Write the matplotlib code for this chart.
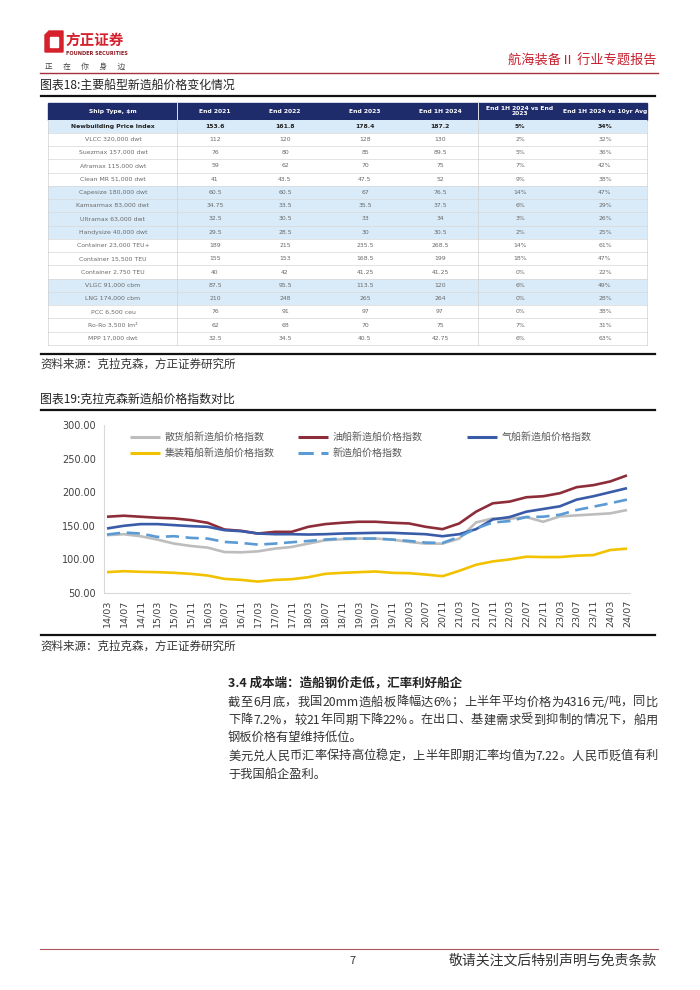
import re
import matplotlib
matplotlib.use("Agg")
import matplotlib.pyplot as plt
from matplotlib.patches import Rectangle, Polygon

plt.rcParams['font.family'] = ['Noto Sans CJK SC', 'DejaVu Sans']

# ---- table 18 data ----
ship_types = ["Newbuilding Price Index", "VLCC 320,000 dwt", "Suezmax 157,000 dwt",
              "Aframax 115,000 dwt", "Clean MR 51,000 dwt", "Capesize 180,000 dwt",
              "Kamsarmax 83,000 dwt", "Ultramax 63,000 dwt", "Handysize 40,000 dwt",
              "Container 23,000 TEU+", "Container 15,500 TEU", "Container 2,750 TEU",
              "VLGC 91,000 cbm", "LNG 174,000 cbm", "PCC 6,500 ceu",
              "Ro-Ro 3,500 lm²", "MPP 17,000 dwt"]
end_2021 = [153.6, 112, 76, 59, 41, 60.5, 34.75, 32.5, 29.5, 189, 155, 40, 87.5, 210, 76, 62, 32.5]
end_2022 = [161.8, 120, 80, 62, 43.5, 60.5, 33.5, 30.5, 28.5, 215, 153, 42, 95.5, 248, 91, 68, 34.5]
end_2023 = [178.4, 128, 85, 70, 47.5, 67, 35.5, 33, 30, 235.5, 168.5, 41.25, 113.5, 265, 97, 70, 40.5]
end_1h2024 = [187.2, 130, 89.5, 75, 52, 76.5, 37.5, 34, 30.5, 268.5, 199, 41.25, 120, 264, 97, 75, 42.75]
vs_end2023 = [5, 2, 5, 7, 9, 14, 6, 3, 2, 14, 18, 0, 6, 0, 0, 7, 6]
vs_10yr = [34, 32, 36, 42, 38, 47, 29, 26, 25, 61, 47, 22, 49, 28, 38, 31, 63]
table_header = ["Ship Type, $m", "End 2021", "End 2022", "End 2023", "End 1H 2024",
                "End 1H 2024 vs End\n2023", "End 1H 2024 vs 10yr Avg"]
shaded_rows = [0, 5, 6, 7, 8, 12, 13]

# ---- chart 19 data (every 4 months) ----
months = ["14/03", "14/07", "14/11", "15/03", "15/07", "15/11", "16/03", "16/07",
          "16/11", "17/03", "17/07", "17/11", "18/03", "18/07", "18/11", "19/03",
          "19/07", "19/11", "20/03", "20/07", "20/11", "21/03", "21/07", "21/11",
          "22/03", "22/07", "22/11", "23/03", "23/07", "23/11", "24/03", "24/07"]
bulk_idx = [136, 137.5, 134.5, 129.5, 123.5, 120, 117.5, 111, 110.5, 112, 116, 118.5,
            123.5, 128.5, 130, 131, 131, 129.5, 126, 123.5, 123.5, 131, 155, 161,
            160.5, 163, 156, 164, 165.5, 167, 168.5, 173.5]
tanker_idx = [163.5, 165, 163.5, 162, 161, 158.5, 154.5, 144.5, 142.5, 138.5, 141, 141,
              148.5, 152.5, 154.5, 156, 156, 154.5, 153.5, 148.5, 145, 153.5, 171, 183.5,
              186, 192.5, 194, 198.5, 207.5, 210.5, 216, 225]
gas_idx = [146, 150, 152.5, 152.5, 151, 149.5, 148.5, 143.5, 142, 138.5, 137.5, 137.5,
           137, 137.5, 138.5, 139, 139.5, 139.5, 138.5, 137.5, 134.5, 137.5, 145, 159.5,
           163, 171, 175, 179, 189, 194, 200, 206]
container_idx = [81, 82.5, 81.5, 81, 80, 78.5, 76, 71, 69.5, 67, 69.5, 70.5,
                 73.5, 78.5, 80, 81, 82, 80, 79.5, 77.5, 75, 83, 92, 97,
                 100, 104, 103.5, 103.5, 105.5, 106.5, 114, 116]
newbuild_idx = [137, 140, 138.5, 133.5, 134.5, 132, 131, 126, 124.5, 122, 123.5, 125.5,
                127.5, 129.5, 131, 131, 131, 129.5, 127.5, 125, 124.5, 133.5, 146, 155,
                157, 163, 163.5, 166.5, 173.5, 178.5, 183.5, 189]
y_ticks = [50, 100, 150, 200, 250, 300]

W, H = 700, 990
fig = plt.figure(figsize=(7, 9.9), dpi=100)
page = fig.add_axes([0, 0, 1, 1])
page.set_xlim(0, W)
page.set_ylim(H, 0)
page.axis('off')
renderer = fig.canvas.get_renderer()

red = '#c8202f'


def justified(y, line, x0, x1, size, color):
    """Spread the pieces of a line so that it fills x0..x1."""
    tokens = re.findall(r'[A-Za-z0-9.%/]+|[^\sA-Za-z0-9.%/]', line)
    texts = [page.text(0, y, t, fontsize=size, color=color, va='center') for t in tokens]
    widths = [t.get_window_extent(renderer).width for t in texts]
    gap = (x1 - x0 - sum(widths)) / (len(texts) - 1)
    x = x0
    for t, w in zip(texts, widths):
        t.set_x(x)
        x += w + gap


# ---- header ----
page.add_patch(Polygon([(45, 35), (49, 31), (63, 31), (63, 52), (45, 52)], color='#d6202c'))
page.add_patch(Rectangle((50, 37), 8, 10, color='white'))
page.text(65, 40, "方正证券", fontsize=10.5, fontweight='bold', color='#d6202c', va='center')
page.text(66, 53.5, "FOUNDER SECURITIES", fontsize=3.6, fontweight='bold', color='#8b1a22',
          va='center', family='DejaVu Sans')
page.text(45, 66.5, "正      在      你      身      边", fontsize=5.5, color='#444444',
          va='center')
page.text(657, 61, "航海装备Ⅱ 行业专题报告", fontsize=9.5, color=red, ha='right', va='center')
page.plot([40, 658], [72.5, 72.5], color='#a3323c', lw=1.0)

# ---- table 18 ----
page.text(40, 86, "图表18:主要船型新造船价格变化情况", fontsize=8.6, color='#222222', va='center')
page.plot([41, 655], [96, 96], color='#111111', lw=1.6)

tx0, tx1 = 48, 647
col_centers = [113, 215, 285, 365, 440, 520, 605]
head_top, head_bot = 103, 119.5
row_h = (345 - head_bot) / len(ship_types)
page.add_patch(Rectangle((tx0, head_top), tx1 - tx0, head_bot - head_top, color='#1f2c6c'))
for cx, lab in zip(col_centers, table_header):
    page.text(cx, (head_top + head_bot) / 2, lab, fontsize=4.3, color='white',
              fontweight='bold', ha='center', va='center', family='DejaVu Sans',
              linespacing=0.95)
for sep in (177, 478):
    page.plot([sep, sep], [head_top, head_bot], color='white', lw=0.6)

for i, name in enumerate(ship_types):
    top = head_bot + i * row_h
    if i in shaded_rows:
        page.add_patch(Rectangle((tx0, top), tx1 - tx0, row_h, color='#d9ebf8', lw=0))
    page.plot([tx0, tx1], [top + row_h, top + row_h], color='#d8d8d8', lw=0.5)
    cells = [name, f"{end_2021[i]:g}", f"{end_2022[i]:g}", f"{end_2023[i]:g}",
             f"{end_1h2024[i]:g}", f"{vs_end2023[i]}%", f"{vs_10yr[i]}%"]
    bold = i == 0
    for cx, txt in zip(col_centers, cells):
        page.text(cx, top + row_h / 2, txt, fontsize=4.4, ha='center', va='center',
                  color='#222222' if bold else '#6a6a6a',
                  fontweight='bold' if bold else 'normal', family='DejaVu Sans')
table_bot = head_bot + len(ship_types) * row_h
for sep in (177, 478):
    page.plot([sep, sep], [head_bot, table_bot], color='#d0d0d0', lw=0.5)
page.plot([tx0, tx0], [head_bot, table_bot], color='#d0d0d0', lw=0.5)
page.plot([tx1, tx1], [head_bot, table_bot], color='#d0d0d0', lw=0.5)

page.plot([41, 655], [353.5, 353.5], color='#111111', lw=1.6)
page.text(40, 364, "资料来源：克拉克森，方正证券研究所", fontsize=8.3, color='#333333', va='center')

# ---- chart 19 ----
page.text(40, 400, "图表19:克拉克森新造船价格指数对比", fontsize=8.6, color='#222222', va='center')
page.plot([41, 655], [410, 410], color='#111111', lw=1.6)
page.plot([41, 655], [635, 635], color='#111111', lw=1.6)
page.text(40, 646, "资料来源：克拉克森，方正证券研究所", fontsize=8.3, color='#333333', va='center')

series = [
    ("散货船新造船价格指数", bulk_idx, '#bdbdbd', '-'),
    ("油船新造船价格指数", tanker_idx, '#8e2d3a', '-'),
    ("气船新造船价格指数", gas_idx, '#3a5ba8', '-'),
    ("集装箱船新造船价格指数", container_idx, '#f2c200', '-'),
    ("新造船价格指数", newbuild_idx, '#5b9bd5', (0, (5, 2.5))),
]

ax = fig.add_axes([104 / W, 1 - 593 / H, (630 - 104) / W, (593 - 425) / H])
x = list(range(len(months)))
for lab, vals, col, ls in series:
    ax.plot(x, vals, color=col, lw=1.9, ls=ls, solid_capstyle='butt')
ax.set_xlim(-3 / 16.77, len(months) - 1 + 3 / 16.77)
ax.set_ylim(50, 300)
ax.set_yticks(y_ticks)
ax.set_yticklabels([f"{v:.2f}" for v in y_ticks], fontsize=7, color='#404040',
                   family='DejaVu Sans')
ax.set_xticks(x)
ax.set_xticklabels(months, rotation=90, fontsize=6.8, color='#404040', family='DejaVu Sans')
ax.tick_params(length=0, pad=5)
ax.tick_params(axis='y', pad=6)
for s in ('top', 'right'):
    ax.spines[s].set_visible(False)
for s in ('left', 'bottom'):
    ax.spines[s].set_color('#d9d9d9')
    ax.spines[s].set_linewidth(0.8)
ax.patch.set_alpha(0)

# manual legend
leg_pos = [(130, 437), (298, 437), (467, 437), (130, 453), (298, 453)]
for (lx, ly), (lab, vals, col, ls) in zip(leg_pos, series):
    page.plot([lx, lx + 30], [ly, ly], color=col, lw=2.2, ls=ls, solid_capstyle='butt')
    page.text(lx + 35, ly, lab, fontsize=7.2, color='#595959', va='center')

# ---- body text ----
page.text(228, 683, "3.4 成本端：造船钢价走低，汇率利好船企", fontsize=9.0,
          fontweight='bold', color='#222222', va='center')
body = [
    ("截至 6 月底，我国 20mm 造船板降幅达 6%；上半年平均价格为 4316 元/吨，同比", True),
    ("下降 7.2%，较 21 年同期下降 22%。在出口、基建需求受到抑制的情况下，船用", True),
    ("钢板价格有望维持低位。", False),
    ("美元兑人民币汇率保持高位稳定，上半年即期汇率均值为 7.22。人民币贬值有利", True),
    ("于我国船企盈利。", False),
]
line_y = [702, 720, 737.5, 756, 774]
for ty, (line, full) in zip(line_y, body):
    if full:
        justified(ty, line, 228, 658, 8.8, '#333333')
    else:
        page.text(228, ty, line, fontsize=8.8, color='#333333', va='center')

# ---- footer ----
page.plot([40, 658], [949, 949], color='#b0545c', lw=0.8)
page.text(353, 961, "7", fontsize=8, color='#333333', ha='center', va='center')
page.text(657, 961, "敬请关注文后特别声明与免责条款", fontsize=10, color='#333333',
          ha='right', va='center')

fig.savefig("out.png", dpi=100)
